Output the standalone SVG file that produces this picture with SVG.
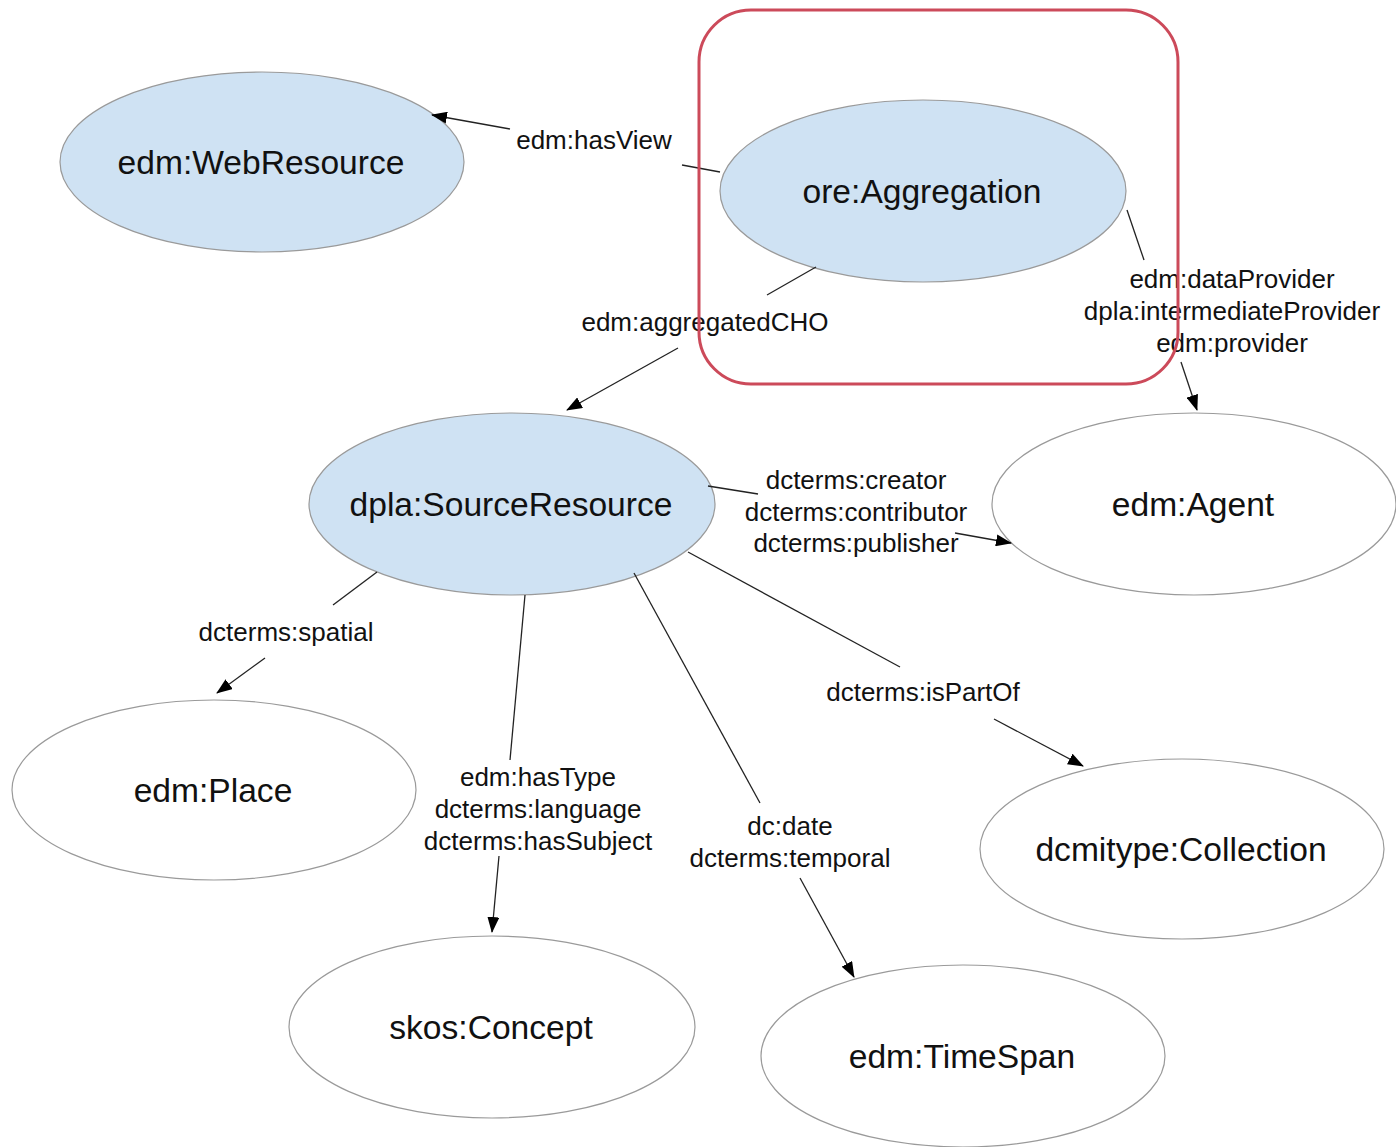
<svg xmlns="http://www.w3.org/2000/svg" width="1396" height="1147" viewBox="0 0 1396 1147">
<style>
.node{stroke:#9a9a9a;stroke-width:1.2}
.blue{fill:#cfe2f3}
.white{fill:#ffffff}
.nl{font-family:"Liberation Sans",Arial,sans-serif;font-size:33.6px;fill:#111;text-anchor:middle}
.el{font-family:"Liberation Sans",Arial,sans-serif;font-size:26px;fill:#111;text-anchor:middle}
.edge{stroke:#222;stroke-width:1.3;fill:none}
</style>
<defs>
<marker id="arr" markerWidth="16" markerHeight="12" refX="15" refY="6" orient="auto" markerUnits="userSpaceOnUse">
<path d="M0,0 L16,6 L0,12 Z" fill="#000"/>
</marker>
</defs>
<rect width="1396" height="1147" fill="#fff"/>
<g id="n-webresource"><ellipse class="node blue" cx="262" cy="162" rx="202" ry="90"/><text class="nl" x="261" y="174">edm:WebResource</text></g>
<g id="n-aggregation"><ellipse class="node blue" cx="923" cy="191" rx="203" ry="91"/><text class="nl" x="922" y="203">ore:Aggregation</text></g>
<g id="n-sourceresource"><ellipse class="node blue" cx="512" cy="504" rx="203" ry="91"/><text class="nl" x="511" y="516">dpla:SourceResource</text></g>
<g id="n-agent"><ellipse class="node white" cx="1194" cy="504" rx="202" ry="91"/><text class="nl" x="1193" y="516">edm:Agent</text></g>
<g id="n-place"><ellipse class="node white" cx="214" cy="790" rx="202" ry="90"/><text class="nl" x="213" y="802">edm:Place</text></g>
<g id="n-concept"><ellipse class="node white" cx="492" cy="1027" rx="203" ry="91"/><text class="nl" x="491" y="1039">skos:Concept</text></g>
<g id="n-timespan"><ellipse class="node white" cx="963" cy="1056" rx="202" ry="91"/><text class="nl" x="962" y="1068">edm:TimeSpan</text></g>
<g id="n-collection"><ellipse class="node white" cx="1182" cy="849" rx="202" ry="90"/><text class="nl" x="1181" y="861">dcmitype:Collection</text></g>
<g id="connectors">
<line class="edge" x1="720" y1="172" x2="682" y2="165"/>
<line class="edge" x1="510" y1="129" x2="432" y2="115" marker-end="url(#arr)"/>
<text class="el" x="594" y="149">edm:hasView</text>
<line class="edge" x1="816" y1="267" x2="767" y2="295"/>
<line class="edge" x1="678" y1="348" x2="567" y2="410" marker-end="url(#arr)"/>
<text class="el" x="705" y="331">edm:aggregatedCHO</text>
<line class="edge" x1="1127" y1="210" x2="1144" y2="260"/>
<line class="edge" x1="1181" y1="362" x2="1197" y2="410" marker-end="url(#arr)"/>
<text class="el" x="1232" y="288">edm:dataProvider</text>
<text class="el" x="1232" y="320">dpla:intermediateProvider</text>
<text class="el" x="1232" y="352">edm:provider</text>
<line class="edge" x1="708" y1="486" x2="758" y2="494"/>
<line class="edge" x1="955" y1="533" x2="1011" y2="543" marker-end="url(#arr)"/>
<text class="el" x="856" y="489">dcterms:creator</text>
<text class="el" x="856" y="521">dcterms:contributor</text>
<text class="el" x="856" y="552">dcterms:publisher</text>
<line class="edge" x1="688" y1="552" x2="900" y2="667"/>
<line class="edge" x1="994" y1="719" x2="1083" y2="766" marker-end="url(#arr)"/>
<text class="el" x="923" y="701">dcterms:isPartOf</text>
<line class="edge" x1="377" y1="572" x2="333" y2="605"/>
<line class="edge" x1="265" y1="658" x2="217" y2="693" marker-end="url(#arr)"/>
<text class="el" x="286" y="641">dcterms:spatial</text>
<line class="edge" x1="525" y1="595" x2="510" y2="760"/>
<line class="edge" x1="499" y1="856" x2="492" y2="932" marker-end="url(#arr)"/>
<text class="el" x="538" y="786">edm:hasType</text>
<text class="el" x="538" y="818">dcterms:language</text>
<text class="el" x="538" y="850">dcterms:hasSubject</text>
<line class="edge" x1="634" y1="573" x2="760" y2="803"/>
<line class="edge" x1="800" y1="878" x2="854" y2="977" marker-end="url(#arr)"/>
<text class="el" x="790" y="835">dc:date</text>
<text class="el" x="790" y="867">dcterms:temporal</text>
</g>
<rect x="699" y="10" width="479" height="374" rx="52" ry="52" fill="none" stroke="#cc4a5a" stroke-width="3"/>
</svg>
